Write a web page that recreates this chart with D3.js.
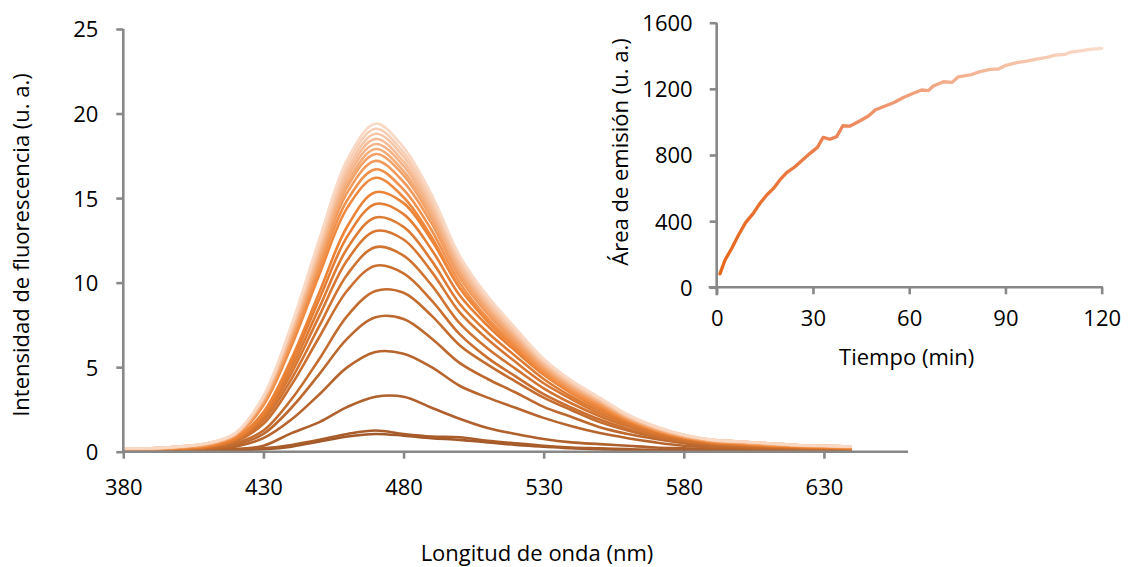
<!DOCTYPE html>
<html><head><meta charset="utf-8">
<script src="https://cdn.jsdelivr.net/npm/d3@7"></script>
<style>
html,body{margin:0;padding:0;background:#fff;}
svg{display:block;}
text{font-family:"Open Sans",sans-serif;fill:#000;}
</style></head>
<body><svg id="c" width="1139" height="567"></svg>
<script>
// ---- Main chart data (wavelength in nm, intensity in u. a.) ----
const wavelengths = [380,390,400,410,420,430,440,450,460,470,480,490,500,510,520,530,540,550,560,570,580,590,600,610,620,630,640];
const s00 = [0.05,0.0,0.05,0.05,0.1,0.15,0.3,0.6,0.9,1.05,0.95,0.8,0.7,0.55,0.4,0.3,0.2,0.15,0.1,0.1,0.05,0.05,0.05,0.0,0.05,0.0,0.0];
const s01 = [0.0,0.05,0.0,0.05,0.1,0.2,0.4,0.7,1.05,1.25,1.05,0.9,0.85,0.65,0.5,0.35,0.25,0.2,0.15,0.1,0.1,0.05,0.05,0.05,0.0,0.05,0.0];
const s02 = [0.0,0.05,0.05,0.05,0.15,0.35,1.1,1.75,2.65,3.25,3.25,2.6,1.95,1.4,1.05,0.75,0.55,0.45,0.35,0.25,0.2,0.15,0.1,0.1,0.1,0.05,0.05];
const s03 = [0.05,0.05,0.1,0.15,0.3,0.8,1.9,3.4,5.0,5.9,5.8,5.0,3.9,3.2,2.6,2.0,1.5,1.1,0.8,0.55,0.35,0.25,0.2,0.15,0.1,0.1,0.1];
const s04 = [0.05,0.05,0.1,0.2,0.4,1.05,2.6,4.6,6.7,7.95,7.85,6.7,5.25,4.3,3.5,2.65,2.05,1.45,1.05,0.75,0.5,0.3,0.25,0.2,0.15,0.15,0.1];
const s05 = [0.05,0.1,0.1,0.2,0.5,1.25,3.1,5.5,8.05,9.5,9.4,8.05,6.3,5.15,4.15,3.2,2.45,1.75,1.25,0.85,0.6,0.4,0.3,0.25,0.2,0.2,0.15];
const s06 = [0.1,0.1,0.15,0.25,0.6,1.65,3.95,6.8,9.55,11.0,10.55,8.95,6.95,5.55,4.45,3.4,2.6,1.9,1.35,0.9,0.6,0.45,0.35,0.3,0.25,0.2,0.2];
const s07 = [0.1,0.1,0.2,0.3,0.65,1.85,4.3,7.45,10.5,12.1,11.6,9.85,7.6,6.1,4.9,3.75,2.85,2.1,1.5,1.0,0.7,0.5,0.4,0.3,0.25,0.2,0.2];
const s08 = [0.1,0.1,0.2,0.3,0.7,2.0,4.65,8.05,11.35,13.05,12.55,10.65,8.25,6.65,5.3,4.05,3.1,2.25,1.6,1.1,0.75,0.5,0.4,0.35,0.3,0.25,0.2];
const s09 = [0.1,0.15,0.2,0.3,0.75,2.1,4.95,8.55,12.05,13.85,13.3,11.3,8.75,7.05,5.65,4.3,3.25,2.4,1.7,1.15,0.8,0.55,0.45,0.35,0.3,0.25,0.2];
const s10 = [0.1,0.15,0.2,0.3,0.8,2.2,5.25,9.05,12.75,14.65,14.05,11.95,9.25,7.45,5.95,4.55,3.45,2.55,1.8,1.25,0.85,0.55,0.45,0.35,0.3,0.25,0.2];
const s11 = [0.1,0.15,0.2,0.35,0.8,2.35,5.5,9.45,13.35,15.35,14.7,12.5,9.7,7.8,6.25,4.75,3.6,2.65,1.9,1.3,0.85,0.6,0.5,0.4,0.3,0.25,0.2];
const s12 = [0.15,0.15,0.25,0.4,0.9,2.75,6.25,10.5,14.45,16.2,15.05,12.7,9.7,7.7,6.1,4.6,3.5,2.65,1.85,1.25,0.85,0.6,0.5,0.4,0.35,0.3,0.25];
const s13 = [0.15,0.15,0.25,0.4,0.95,2.85,6.45,10.85,14.9,16.7,15.5,13.1,10.0,7.9,6.3,4.75,3.6,2.75,1.9,1.3,0.85,0.6,0.5,0.4,0.35,0.3,0.25];
const s14 = [0.15,0.15,0.25,0.4,1.0,2.9,6.65,11.15,15.35,17.2,15.95,13.5,10.3,8.15,6.45,4.9,3.7,2.85,1.95,1.3,0.9,0.65,0.55,0.45,0.35,0.3,0.25];
const s15 = [0.15,0.2,0.25,0.45,1.0,3.0,6.8,11.4,15.7,17.6,16.35,13.8,10.55,8.35,6.6,5.0,3.8,2.9,2.0,1.35,0.9,0.65,0.55,0.45,0.35,0.3,0.3];
const s16 = [0.2,0.2,0.3,0.45,1.0,3.05,6.95,11.6,15.95,17.9,16.6,14.05,10.75,8.5,6.75,5.1,3.85,2.95,2.0,1.4,0.95,0.65,0.55,0.45,0.4,0.3,0.3];
const s17 = [0.2,0.2,0.3,0.45,1.05,3.1,7.05,11.8,16.25,18.2,16.9,14.25,10.9,8.65,6.85,5.15,3.95,3.0,2.05,1.4,0.95,0.7,0.6,0.5,0.4,0.35,0.3];
const s18 = [0.2,0.2,0.3,0.5,1.05,3.15,7.15,12.0,16.5,18.5,17.15,14.5,11.1,8.75,6.95,5.25,4.0,3.05,2.1,1.4,0.95,0.7,0.6,0.5,0.4,0.35,0.3];
const s19 = [0.2,0.2,0.3,0.5,1.05,3.2,7.3,12.2,16.75,18.8,17.45,14.75,11.3,8.9,7.05,5.35,4.05,3.1,2.1,1.45,1.0,0.7,0.6,0.5,0.4,0.35,0.3];
const s20 = [0.2,0.2,0.3,0.5,1.1,3.25,7.4,12.4,17.05,19.1,17.7,14.95,11.45,9.05,7.2,5.4,4.15,3.15,2.15,1.45,1.0,0.7,0.6,0.5,0.4,0.35,0.3];
const s21 = [0.2,0.2,0.3,0.5,1.1,3.3,7.5,12.6,17.3,19.4,18.0,15.2,11.6,9.2,7.3,5.5,4.2,3.2,2.2,1.5,1.0,0.7,0.6,0.5,0.4,0.35,0.3];
const spectra = [s00,s01,s02,s03,s04,s05,s06,s07,s08,s09,s10,s11,s12,s13,s14,s15,s16,s17,s18,s19,s20,s21];
const mainXTicks = [380,430,480,530,580,630];
const mainYTicks = [0,5,10,15,20,25];

// ---- Inset data (time in min, emission area in u. a.) ----
const times = [1,2.6,4.7,6.8,9,11.4,13.5,15.6,17.7,19.7,21.8,24.4,27,29.1,31.4,33.2,35.3,37.4,39.3,41.6,44.7,47.3,49.4,52.5,55.1,58.2,61.3,63.9,66,67.5,70.7,73.3,75.3,79,82.1,85.2,87.8,89.9,93.5,96.6,99.7,102.9,105.5,108.6,110.1,113.3,116.4,120];
const areas = [81,165,236,316,391,447,508,558,598,649,693,729,774,810,846,907,895,911,977,975,1007,1036,1072,1096,1116,1148,1173,1193,1189,1217,1243,1239,1273,1284,1304,1318,1320,1340,1358,1368,1380,1390,1404,1408,1421,1429,1439,1445];
const insetXTicks = [0,30,60,90,120];
const insetYTicks = [0,400,800,1200,1600];

const svg = d3.select("#c");
const axisColor = "#888888";
const FONT = "'Open Sans', sans-serif";
const FS = 22;

// ---------- Main chart ----------
const x = d3.scaleLinear().domain([380,660]).range([123.3,908]);
const y = d3.scaleLinear().domain([0,25]).range([451.7,29]);
const col = d3.scaleLinear().domain([0,0.55,1]).range(["#A3592A","#EF8436","#F9D8C4"]).interpolate(d3.interpolateRgb);

const gMain = svg.append("g");
const line = d3.line().x((d,i)=>x(wavelengths[i])).y(d=>y(d)).curve(d3.curveCatmullRom.alpha(0.5));
spectra.forEach((s,i)=>{
  gMain.append("path").attr("d", line(s)).attr("fill","none")
    .attr("stroke", col(i/(spectra.length-1))).attr("stroke-width",2.6)
    .attr("stroke-linejoin","round");
});

function styleAxis(g){
  g.select(".domain").attr("stroke",axisColor).attr("stroke-width",2.6);
  g.selectAll(".tick line").attr("stroke",axisColor).attr("stroke-width",2.6);
  g.selectAll(".tick text").attr("font-family",FONT).attr("font-size",FS).attr("fill","#000");
}

const xAxis = d3.axisBottom(x).tickValues(mainXTicks).tickSize(7).tickFormat(d3.format("d"));
const gx = svg.append("g").attr("transform",`translate(0,${y(0)})`).call(xAxis);
const yAxis = d3.axisLeft(y).tickValues(mainYTicks).tickSize(7).tickFormat(d3.format("d"));
const gy = svg.append("g").attr("transform",`translate(${x(380)},0)`).call(yAxis);
styleAxis(gx); styleAxis(gy);
gx.select(".domain").attr("d",`M${x(380)-1.3},0H${x(660)}`);
gy.select(".domain").attr("d",`M0,${y(25)}V${y(0)+1.3}`);
gx.selectAll(".tick text").attr("y",43).attr("dy",0);
gy.selectAll(".tick text").attr("x",-25).attr("dy","0.36em");

svg.append("text").attr("x",537).attr("y",561).attr("text-anchor","middle").attr("font-size",FS).text("Longitud de onda (nm)");
svg.append("text").attr("transform","translate(29,245) rotate(-90)").attr("text-anchor","middle").attr("font-size",FS).text("Intensidad de fluorescencia (u. a.)");

// ---------- Inset chart ----------
const xi = d3.scaleLinear().domain([0,120]).range([716.7,1101.7]);
const yi = d3.scaleLinear().domain([0,1600]).range([287.3,22.7]);

const defs = svg.append("defs");
const grad = defs.append("linearGradient").attr("id","insetGrad").attr("gradientUnits","userSpaceOnUse")
  .attr("x1", xi(times[0])).attr("x2", xi(times[times.length-1])).attr("y1",0).attr("y2",0);
grad.append("stop").attr("offset","0%").attr("stop-color","#E8671A");
grad.append("stop").attr("offset","30%").attr("stop-color","#EC8457");
grad.append("stop").attr("offset","60%").attr("stop-color","#F2AD8C");
grad.append("stop").attr("offset","100%").attr("stop-color","#FADDCC");

const xAxisI = d3.axisBottom(xi).tickValues(insetXTicks).tickSize(7).tickFormat(d3.format("d"));
const gxi = svg.append("g").attr("transform",`translate(0,${yi(0)})`).call(xAxisI);
const yAxisI = d3.axisLeft(yi).tickValues(insetYTicks).tickSize(7).tickFormat(d3.format("d"));
const gyi = svg.append("g").attr("transform",`translate(${xi(0)},0)`).call(yAxisI);
styleAxis(gxi); styleAxis(gyi);
gxi.select(".domain").attr("d",`M${xi(0)-8},0H${xi(120)+1.3}`);
gyi.select(".domain").attr("d",`M0,${yi(1600)}V${yi(0)+8}`);
gxi.selectAll(".tick text").attr("y",39).attr("dy",0);
gyi.selectAll(".tick text").attr("x",-24).attr("dy","0.36em");

const lineI = d3.line().x((d,i)=>xi(times[i])).y(d=>yi(d));
svg.append("path").attr("d", lineI(areas)).attr("fill","none").attr("stroke","url(#insetGrad)")
  .attr("stroke-width",3.3).attr("stroke-linejoin","round").attr("stroke-linecap","round");

svg.append("text").attr("x",906.7).attr("y",365).attr("text-anchor","middle").attr("font-size",FS).text("Tiempo (min)");
svg.append("text").attr("transform","translate(628,152) rotate(-90)").attr("text-anchor","middle").attr("font-size",FS).text("Área de emisión (u. a.)");
</script></body></html>
